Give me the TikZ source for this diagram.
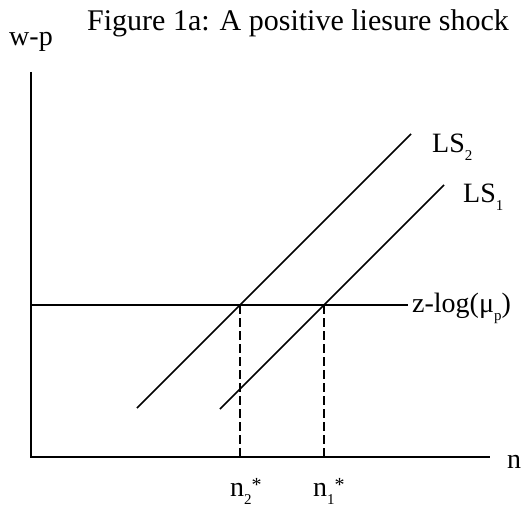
\documentclass[tikz,border=0pt]{standalone}
\usepackage{fontspec}
\setmainfont{Liberation Serif}
\usepackage{tikz}
\usetikzlibrary{calc,positioning}
\newcommand{\lowsub}[1]{\raisebox{-0.3em}{\fontsize{15}{15}\selectfont #1}}
\newcommand{\eqstar}{\raisebox{0.15em}{\fontsize{20}{20}\selectfont *}}

\begin{document}
\begin{tikzpicture}[x=1pt,y=-1pt,font=\fontsize{28}{30}\selectfont,
  axis/.style={line width=1.6pt},
  supply/.style={line width=1.5pt},
  guide/.style={line width=1.5pt,dash pattern=on 9pt off 4pt},
  lbl/.style={inner sep=0pt,anchor=base west}]
\useasboundingbox (0,0) rectangle (527,508);
% axes
\coordinate (O) at (31,457); \coordinate (ytop) at (31,72); \coordinate (xend) at (490,457);
\draw[axis] (ytop) -- (O) -- (xend);
\node[inner sep=0pt,anchor=base] (title) at (298,31) {\fontsize{30}{32}\selectfont Figure 1a: A positive liesure shock};
\node[inner sep=0pt,anchor=base] (wp) at (31,46) {w-p};
\node[lbl] (nlab) at (507,468) {n};
% labour supply curves
\coordinate (a2) at (137,408); \coordinate (b2) at (411,134);
\coordinate (a1) at (220,409); \coordinate (b1) at (444,185);
\draw[supply] (a2) -- (b2); \node[lbl] (ls2) at (432,152) {LS\lowsub{2}};
\draw[supply] (a1) -- (b1); \node[lbl] (ls1) at (463,202) {LS\lowsub{1}};
% markup line
\coordinate (h0) at (31,305); \coordinate (h1) at (408,305);
\draw[axis] (h0) -- (h1); \node[lbl] (zlog) at (412,312) {z-log(μ\lowsub{p})};
% equilibria
\coordinate (e2) at (240,305); \coordinate (e1) at (324,305);
\draw[guide] (e2) -- (e2 |- O); \draw[guide] (e1) -- (e1 |- O);
\node[lbl] (n2) at (230,496) {n\lowsub{2}\eqstar};
\node[lbl] (n1) at (313,496) {n\lowsub{1}\eqstar};
\end{tikzpicture}
\end{document}
